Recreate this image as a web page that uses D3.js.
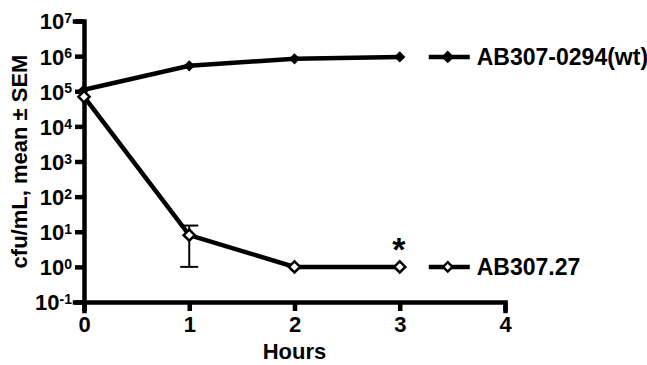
<!DOCTYPE html>
<html>
<head>
<meta charset="utf-8">
<script src="https://cdn.jsdelivr.net/npm/d3@7"></script>
<style>
  body { margin: 0; background: #fff; }
  text { font-family: "Liberation Sans", Arial, sans-serif; font-weight: bold; fill: #000; }
</style>
</head>
<body>
<svg id="chart" width="647" height="365"></svg>
<script>
// data
const hours = [0, 1, 2, 3];
const wtValues = [1.1e5, 5.3e5, 8.4e5, 9.5e5];
const mutValues = [7e4, 8, 1, 1];
const mutErrLow = [7e4, 1, 1, 1];
const mutErrHigh = [7e4, 15, 1, 1];
const xTicks = [0, 1, 2, 3, 4];
const yExponents = [-1, 0, 1, 2, 3, 4, 5, 6, 7];
const seriesNames = ['AB307-0294(wt)', 'AB307.27'];

const svg = d3.select('#chart');
const margin = { left: 84, top: 21, right: 142, bottom: 63 };
const width = 647, height = 365;

const x = d3.scaleLinear().domain([0, 4]).range([margin.left, width - margin.right]);
const y = d3.scaleLog().domain([0.1, 1e7]).range([height - margin.bottom, margin.top]);

// axes
const xAxis = svg.append('g')
    .attr('transform', `translate(0,${height - margin.bottom})`)
    .call(d3.axisBottom(x).tickValues(xTicks).tickSize(9).tickPadding(5).tickFormat(d3.format('d')));
xAxis.selectAll('text').style('font-size', '22px').attr('dy', '0.72em');

const yAxis = svg.append('g')
    .attr('transform', `translate(${margin.left},0)`)
    .call(d3.axisLeft(y).tickValues(yExponents.map(e => Math.pow(10, e))).tickSize(9).tickPadding(4).tickFormat(''));

yAxis.selectAll('.tick').each(function(d) {
    const t = d3.select(this).append('text')
        .attr('x', -12)
        .attr('dy', '0.36em')
        .attr('text-anchor', 'end')
        .style('font-size', '22px');
    t.append('tspan').text('10');
    t.append('tspan').attr('dy', '-0.45em').style('font-size', '14px')
        .text(Math.round(Math.log10(d)));
});

svg.selectAll('.domain, .tick line').attr('stroke', '#000').attr('stroke-width', 4.5);
svg.selectAll('.domain').attr('stroke-linecap', 'square');

// axis titles
svg.append('text')
    .attr('transform', `translate(27,${(margin.top + height - margin.bottom) / 2}) rotate(-90)`)
    .attr('text-anchor', 'middle')
    .style('font-size', '22px')
    .text('cfu/mL, mean ± SEM');

svg.append('text')
    .attr('x', x(2)).attr('y', 359)
    .attr('text-anchor', 'middle')
    .style('font-size', '22px')
    .text('Hours');

const line = d3.line().x(d => x(d[0])).y(d => y(d[1]));
const diamond = d3.symbol().type(d3.symbolDiamond2).size(80);

// error bars (mutant)
hours.forEach((h, i) => {
    if (mutErrHigh[i] === mutErrLow[i]) return;
    const g = svg.append('g').attr('stroke', '#000').attr('stroke-width', 2);
    g.append('line').attr('x1', x(h)).attr('x2', x(h)).attr('y1', y(mutErrLow[i])).attr('y2', y(mutErrHigh[i]));
    [mutErrLow[i], mutErrHigh[i]].forEach(v => {
        g.append('line').attr('x1', x(h) - 9).attr('x2', x(h) + 9).attr('y1', y(v)).attr('y2', y(v));
    });
});

// series lines
svg.append('path')
    .datum(hours.map((h, i) => [h, wtValues[i]]))
    .attr('d', line).attr('fill', 'none').attr('stroke', '#000').attr('stroke-width', 4.5);
svg.append('path')
    .datum(hours.map((h, i) => [h, mutValues[i]]))
    .attr('d', line).attr('fill', 'none').attr('stroke', '#000').attr('stroke-width', 4.5);

// markers
svg.selectAll('.wt-pt')
    .data(hours.map((h, i) => [h, wtValues[i]]))
    .join('path')
    .attr('transform', d => `translate(${x(d[0])},${y(d[1])})`)
    .attr('d', diamond)
    .attr('fill', '#000');

svg.selectAll('.mut-pt')
    .data(hours.map((h, i) => [h, mutValues[i]]))
    .join('path')
    .attr('transform', d => `translate(${x(d[0])},${y(d[1])})`)
    .attr('d', diamond)
    .attr('fill', '#fff').attr('stroke', '#000').attr('stroke-width', 2.5);

// significance asterisk
svg.append('text')
    .attr('x', x(3) - 1).attr('y', y(1) - 6)
    .attr('text-anchor', 'middle')
    .style('font-size', '34px')
    .text('*');

// legend placed at each series' last value
const legendX = x(3) + 29;
[[wtValues[3], seriesNames[0], '#000'], [mutValues[3], seriesNames[1], '#fff']].forEach(([v, name, fill]) => {
    const ly = y(v);
    svg.append('line')
        .attr('x1', legendX).attr('x2', legendX + 41)
        .attr('y1', ly).attr('y2', ly)
        .attr('stroke', '#000').attr('stroke-width', 4.5);
    svg.append('path')
        .attr('transform', `translate(${legendX + 19},${ly})`)
        .attr('d', d3.symbol().type(d3.symbolDiamond2).size(55)())
        .attr('fill', fill).attr('stroke', '#000').attr('stroke-width', 2.5);
    svg.append('text')
        .attr('x', legendX + 48).attr('y', ly)
        .attr('dy', '0.36em')
        .style('font-size', '23px')
        .text(name);
});
</script>
</body>
</html>
